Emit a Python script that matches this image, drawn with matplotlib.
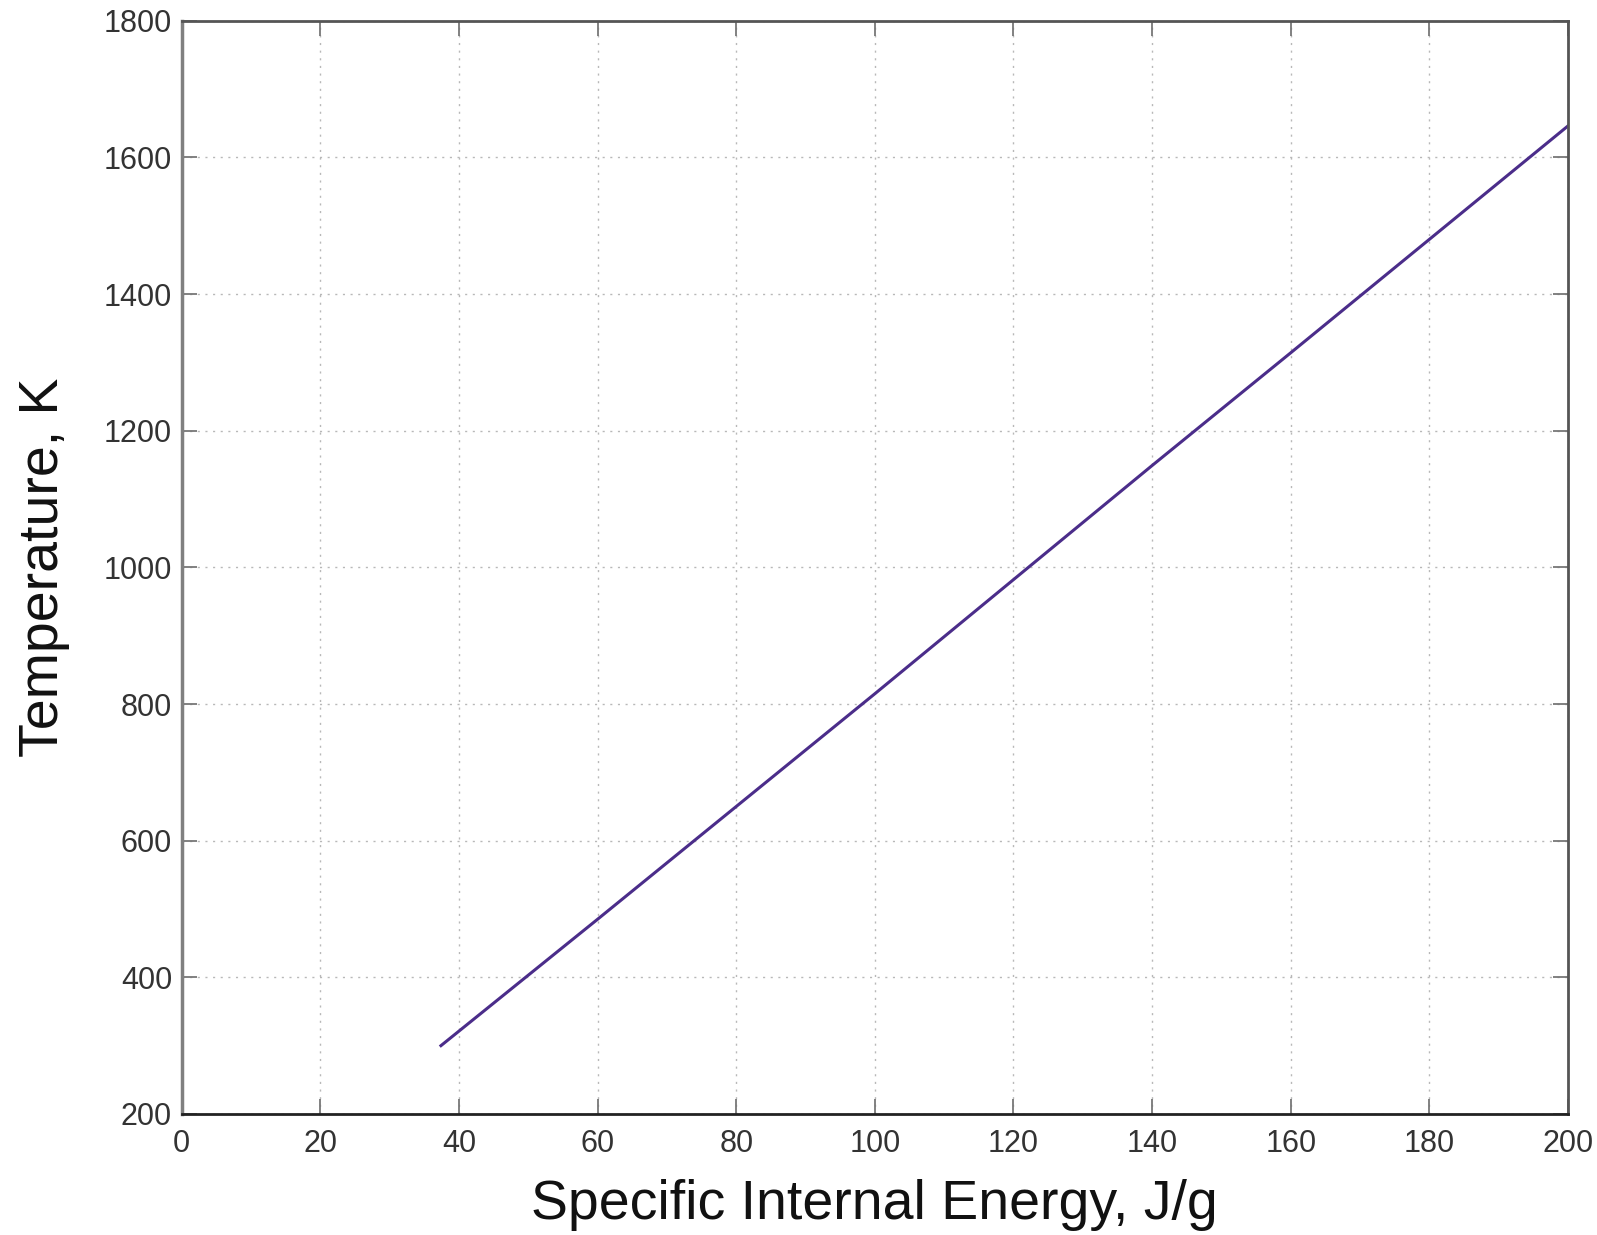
import numpy as np
import matplotlib; matplotlib.use("Agg")
import matplotlib.pyplot as plt

plt.rcParams.update({"font.family": ["Liberation Sans", "DejaVu Sans"]})

# specific internal energy (J/g) vs temperature (K)
energy = [37.4, 60, 80, 100, 120, 140, 160, 180, 200]
temp = [300, 485, 650, 815, 982, 1149, 1314, 1480, 1646]
xticks = list(range(0, 201, 20))
yticks = list(range(200, 1801, 200))

fig = plt.figure(figsize=(15.97, 12.35), dpi=100)
ax = fig.add_axes([0.1138, 0.098, 0.868, 0.8852])
ax.plot(energy, temp, color="#4b2d8a", lw=2.2)
ax.set_xlim(0, 200); ax.set_ylim(200, 1800)
ax.set_xticks(xticks); ax.set_yticks(yticks)
ax.grid(True, ls=(0, (1.5, 4)), color="#b8b8b8", lw=1.0)
ax.tick_params(direction="in", length=11, width=1.3, color="#777777",
               labelsize=22, labelcolor="#333333", top=True, right=True)
ax.tick_params(axis="x", pad=11)
ax.tick_params(axis="y", pad=7)
ax.spines["left"].set_color("#808080"); ax.spines["left"].set_linewidth(2.5)
ax.spines["bottom"].set_color("#222222"); ax.spines["bottom"].set_linewidth(2.0)
ax.spines["top"].set_color("#555555"); ax.spines["top"].set_linewidth(2.0)
ax.spines["right"].set_color("#555555"); ax.spines["right"].set_linewidth(2.0)
ax.set_xlabel("Specific Internal Energy, J/g", fontsize=40, color="#111111", labelpad=14)
ax.set_ylabel("Temperature, K", fontsize=40, color="#111111", labelpad=24)
fig.savefig("out.png", dpi=100)
